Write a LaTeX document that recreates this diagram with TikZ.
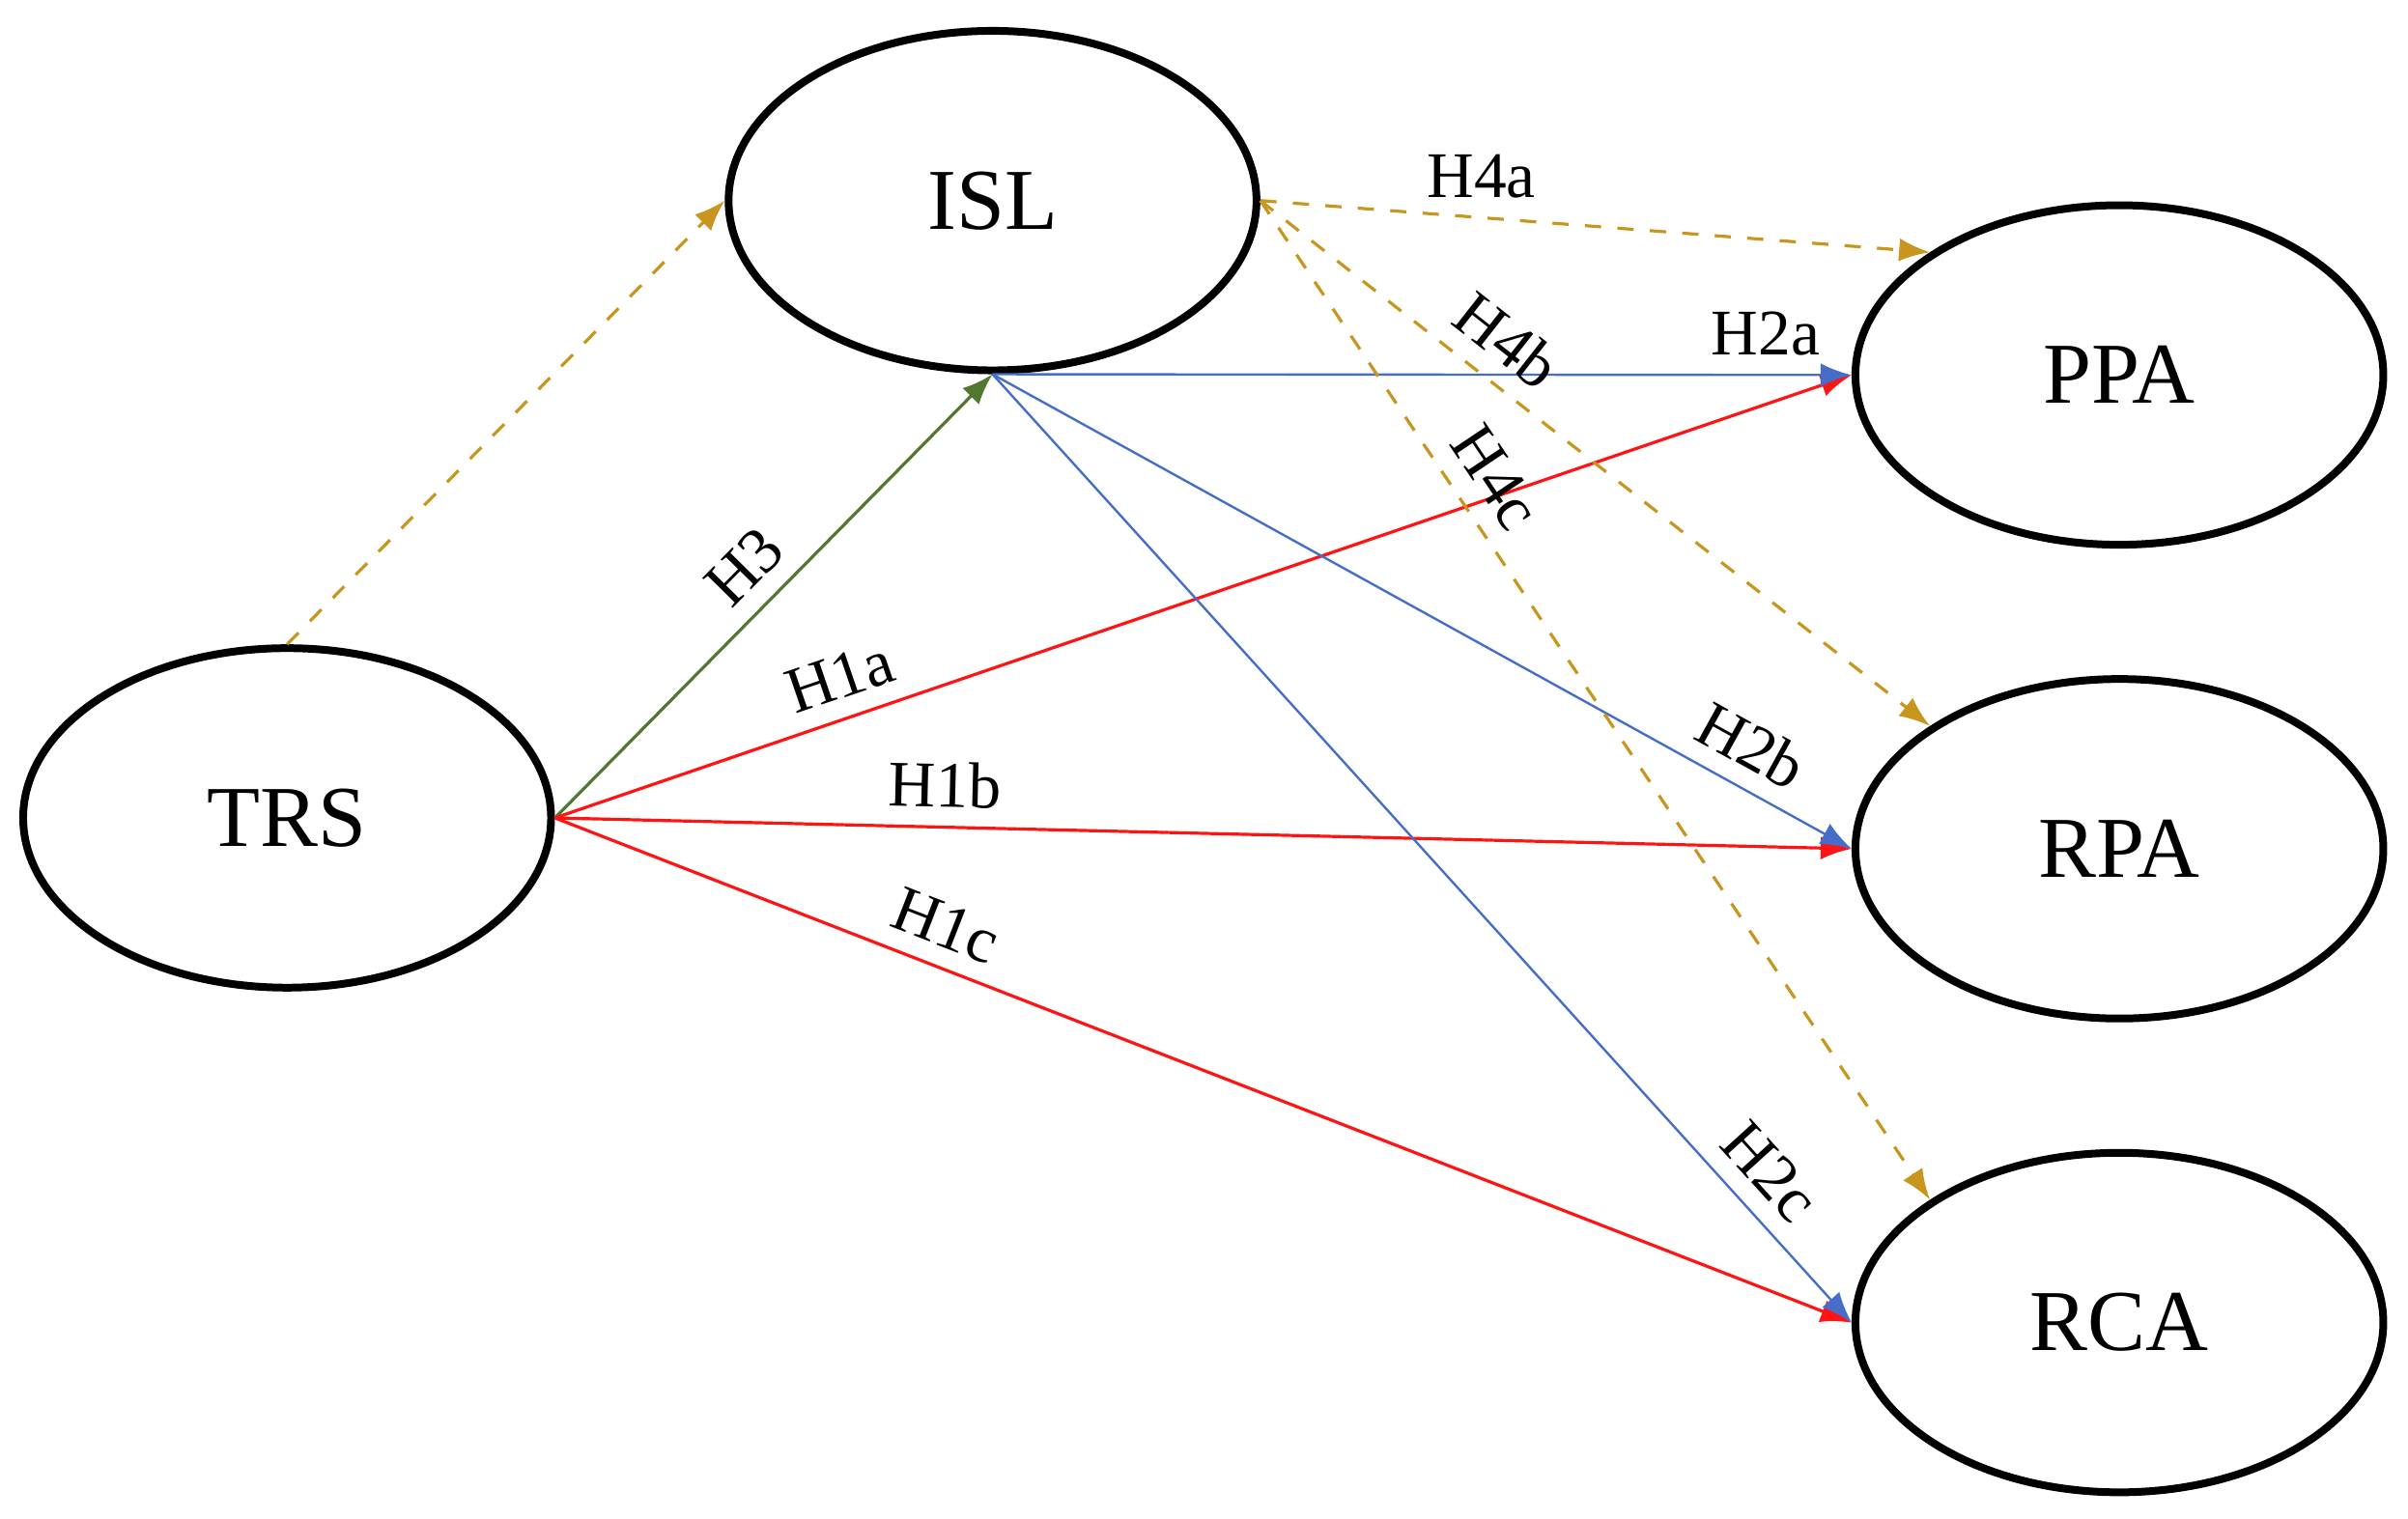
\documentclass[tikz,border=0pt]{standalone}
\usepackage{fontspec}
\setmainfont{Liberation Serif}
\usetikzlibrary{positioning,shapes,arrows.meta}
\definecolor{hgold}{RGB}{200,150,30}
\definecolor{hblue}{RGB}{70,110,200}
\definecolor{hgreen}{RGB}{80,120,50}
\definecolor{hred}{RGB}{255,20,20}
\begin{document}
\begin{tikzpicture}[font=\fontsize{12}{14}\selectfont]
        \def\ellw{3.42cm}
        \def\ellh{2.2cm}
        \def\ellline{0.05cm}
        \useasboundingbox (0,0) rectangle (15.6,9.84);

        \node[ellipse, draw, line width=\ellline, minimum width=\ellw, minimum height=\ellh, font=\fontsize{16}{18}\selectfont] (isl) at (6.43, 8.54) {ISL};
        \node[ellipse, draw, line width=\ellline, minimum width=\ellw, minimum height=\ellh, font=\fontsize{16}{18}\selectfont] (trs) at (1.86, 4.54) {TRS};
        \node[ellipse, draw, line width=\ellline, minimum width=\ellw, minimum height=\ellh, font=\fontsize{16}{18}\selectfont] (ppa) at (13.73, 7.41) {PPA};
        \node[ellipse, draw, line width=\ellline, minimum width=\ellw, minimum height=\ellh, font=\fontsize{16}{18}\selectfont] (rpa) at (13.73, 4.34) {RPA};
        \node[ellipse, draw, line width=\ellline, minimum width=\ellw, minimum height=\ellh, font=\fontsize{16}{18}\selectfont] (rca) at (13.73, 1.27) {RCA};

        \draw [-{Latex[length=2mm]}, hgold, dashed, line width=0.02cm] (trs.north) -- (isl.west);
        \draw [-{Latex[length=2mm]}, hgreen, line width=0.02cm] (trs.east) -- node[sloped, above, pos=0.5, black] {H3} (isl.south);

        \draw [-{Latex[length=2mm]}, hred, line width=0.02cm] (trs.east) -- node[sloped, above, pos=0.23, black] {H1a} (ppa.west);
        \draw [-{Latex[length=2mm]}, hred, line width=0.02cm] (trs.east) -- node[sloped, above, pos=0.3, black] {H1b} (rpa.west);
        \draw [-{Latex[length=2mm]}, hred, line width=0.02cm] (trs.east) -- node[sloped, above, pos=0.29, black] {H1c} (rca.west);

        \draw [-{Latex[length=2mm]}, hblue, line width=0.015cm] (isl.south) -- node[above, pos=0.9, black] {H2a} (ppa.west);
        \draw [-{Latex[length=2mm]}, hblue, line width=0.015cm] (isl.south) -- node[sloped, above, pos=0.86, black] {H2b} (rpa.west);
        \draw [-{Latex[length=2mm]}, hblue, line width=0.015cm] (isl.south) -- node[sloped, above, pos=0.87, black] {H2c} (rca.west);

        \draw [-{Latex[length=2mm]}, hgold, dashed, line width=0.02cm] (isl.east) -- node[above, pos=0.33, black] {H4a} (ppa.north west);
        \draw [-{Latex[length=2mm]}, hgold, dashed, line width=0.02cm] (isl.east) -- node[sloped, above, pos=0.33, black] {H4b} (rpa.north west);
        \draw [-{Latex[length=2mm]}, hgold, dashed, line width=0.02cm] (isl.east) -- node[sloped, above, pos=0.3, black] {H4c} (rca.north west);
    \end{tikzpicture}
\end{document}
